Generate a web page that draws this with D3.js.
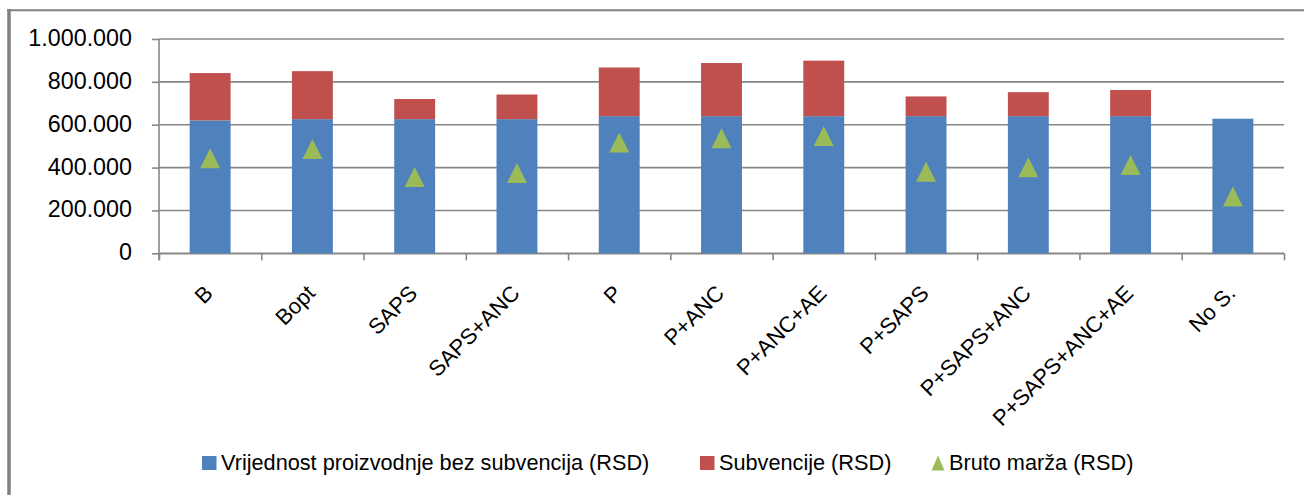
<!DOCTYPE html>
<html>
<head>
<meta charset="utf-8">
<script src="https://cdn.jsdelivr.net/npm/d3@7"></script>
<style>
  html, body { margin: 0; padding: 0; background: #fff; }
  svg { display: block; }
  text { font-family: "Liberation Sans", Arial, sans-serif; fill: #000; }
</style>
</head>
<body>
<svg id="chart" width="1304" height="495"></svg>
<script>
// ---- data ----
const categories = ["B", "Bopt", "SAPS", "SAPS+ANC", "P", "P+ANC", "P+ANC+AE", "P+SAPS", "P+SAPS+ANC", "P+SAPS+ANC+AE", "No S."];
const productionValue = [620000, 626000, 626000, 626000, 640000, 640000, 640000, 640000, 640000, 640000, 628000];
const subsidies = [221000, 224000, 94000, 115000, 227000, 248000, 259000, 92000, 112000, 122000, 0];
const grossMargin = [444000, 487000, 356000, 375000, 517000, 537000, 547000, 381000, 402000, 412000, 265000];
const yTicks = [0, 200000, 400000, 600000, 800000, 1000000];
const seriesNames = ["Vrijednost proizvodnje bez subvencija (RSD)", "Subvencije (RSD)", "Bruto marža (RSD)"];

// ---- layout ----
const svg = d3.select("#chart");
const plot = { left: 159, right: 1284, top: 39, bottom: 253.3 };
const colors = { blue: "#4F81BD", red: "#C0504D", green: "#9BBB59", grid: "#878787", frame: "#808080" };

// frame
svg.append("line").attr("x1", 9).attr("x2", 9).attr("y1", 9).attr("y2", 495)
  .attr("stroke", colors.frame).attr("stroke-width", 3.5);
svg.append("line").attr("x1", 7).attr("x2", 1304).attr("y1", 10.3).attr("y2", 10.3)
  .attr("stroke", colors.frame).attr("stroke-width", 2);

const y = d3.scaleLinear().domain([0, 1000000]).range([plot.bottom, plot.top]);
const x = d3.scaleBand().domain(categories).range([plot.left, plot.right]).padding(0);
const xIdx = d3.scaleLinear().domain([0, categories.length]).range([plot.left, plot.right]);
const barW = x.bandwidth() * 0.4;
const cx = c => x(c) + x.bandwidth() / 2;

// gridlines
svg.append("g").selectAll("line").data(yTicks).join("line")
  .attr("x1", plot.left).attr("x2", plot.right)
  .attr("y1", d => y(d)).attr("y2", d => y(d))
  .attr("stroke", colors.grid).attr("stroke-width", 1.6);

// y axis
const fmt = d => d3.format(",")(d).replace(/,/g, ".");
const yAxis = svg.append("g").attr("transform", `translate(${plot.left},0)`)
  .call(d3.axisLeft(y).tickValues(yTicks).tickFormat(fmt).tickSize(7).tickPadding(20));
yAxis.select(".domain").attr("stroke", colors.grid).attr("stroke-width", 1.6)
  .attr("d", `M0,${plot.top}V${plot.bottom + 7}`);
yAxis.selectAll(".tick line").attr("stroke", colors.grid).attr("stroke-width", 1.6);
yAxis.selectAll(".tick text").attr("font-size", 23.3).attr("dy", "0.28em")
  .style("font-family", '"Liberation Sans", Arial, sans-serif').attr("fill", "#000");

// x axis (boundary ticks)
const xAxis = svg.append("g").attr("transform", `translate(0,${plot.bottom})`)
  .call(d3.axisBottom(xIdx).tickValues(d3.range(0, categories.length + 1)).tickFormat("").tickSize(7).tickSizeOuter(0));
xAxis.select(".domain").attr("stroke", colors.grid).attr("stroke-width", 1.6);
xAxis.selectAll(".tick line").attr("stroke", colors.grid).attr("stroke-width", 1.6);

// bars
const gBars = svg.append("g");
gBars.selectAll("rect.blue").data(categories).join("rect").attr("class", "blue")
  .attr("x", c => cx(c) - barW / 2).attr("width", barW)
  .attr("y", (c, i) => y(productionValue[i]))
  .attr("height", (c, i) => y(0) - y(productionValue[i]))
  .attr("fill", colors.blue);
gBars.selectAll("rect.red").data(categories).join("rect").attr("class", "red")
  .attr("x", c => cx(c) - barW / 2).attr("width", barW)
  .attr("y", (c, i) => y(productionValue[i] + subsidies[i]))
  .attr("height", (c, i) => y(productionValue[i]) - y(productionValue[i] + subsidies[i]))
  .attr("fill", colors.red);

// triangles
const tri = (w, h) => `M0,${-h / 2}L${w / 2},${h / 2}L${-w / 2},${h / 2}Z`;
svg.append("g").selectAll("path").data(categories).join("path")
  .attr("d", tri(20, 20))
  .attr("transform", (c, i) => `translate(${cx(c)},${y(grossMargin[i])})`)
  .attr("fill", colors.green);

// category labels
svg.append("g").selectAll("text").data(categories).join("text")
  .attr("transform", c => `translate(${cx(c) + 4},${294.5}) rotate(-45)`)
  .attr("text-anchor", "end").attr("font-size", 22)
  .text(c => c);

// legend
const legend = svg.append("g");
const legendX = [202, 700, 931];
const legendY = 469.5;
const swatches = [colors.blue, colors.red, colors.green];
seriesNames.forEach((name, i) => {
  const lx = legendX[i];
  if (i < 2) {
    legend.append("rect").attr("x", lx).attr("y", 456).attr("width", 14.5).attr("height", 14)
      .attr("fill", swatches[i]);
  } else {
    legend.append("path").attr("d", tri(13, 15)).attr("transform", `translate(${lx + 7},${463})`)
      .attr("fill", swatches[i]);
  }
  legend.append("text").attr("x", lx + (i < 2 ? 19 : 18)).attr("y", legendY)
    .attr("font-size", 21.7).text(name);
});
</script>
</body>
</html>
